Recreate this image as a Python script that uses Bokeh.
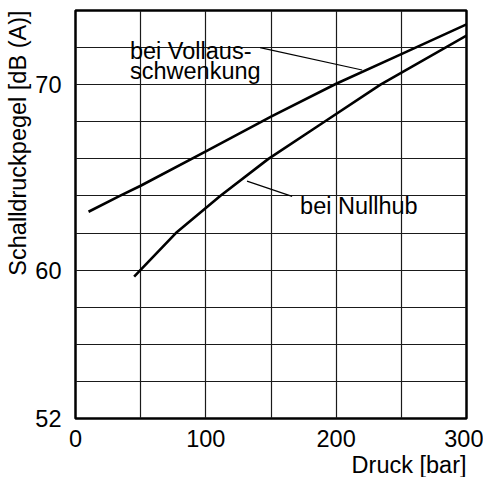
from bokeh.plotting import figure
from bokeh.models import FixedTicker, Label, Title, Range1d
from bokeh.embed import file_html
from bokeh.resources import INLINE

# ---- data ----
pressure_voll = [10, 34, 50, 100, 150, 200, 250, 300]
level_voll = [63.15, 64.0, 64.55, 66.4, 68.28, 70.05, 71.65, 73.25]

pressure_null = [45, 77, 111, 148, 191, 234, 300]
level_null = [59.65, 62.0, 64.0, 66.0, 68.0, 70.0, 72.65]

x_ticks = [0, 100, 200, 300]
y_ticks = [52, 60, 70]
x_grid = [50, 100, 150, 200, 250]
y_grid = [54, 56, 58, 60, 62, 64, 66, 68, 70, 72]

label_texts = ["bei Vollaus-", "schwenkung", "bei Nullhub"]
label_x = [41.8, 41.8, 172.3]
label_y = [71.8, 70.72, 63.45]

leader_x0 = [141.6, 131.6]
leader_y0 = [72.0, 64.8]
leader_x1 = [219.9, 166.2]
leader_y1 = [70.79, 63.98]

FONT = "Liberation Sans"
FS = "23.5px"

p = figure(width=483, height=477, output_backend="svg", toolbar_location=None,
           x_range=Range1d(0, 300), y_range=Range1d(52, 74),
           min_border_top=10, min_border_right=17, min_border_left=10, min_border_bottom=10)

p.background_fill_color = "white"
p.border_fill_color = "white"
p.outline_line_color = "black"
p.outline_line_width = 2.5

for ax in (p.xaxis, p.yaxis):
    ax.axis_line_color = None
    ax.major_tick_line_color = None
    ax.minor_tick_line_color = None
    ax.major_label_text_font = FONT
    ax.major_label_text_font_size = FS
    ax.major_label_text_color = "black"

p.xaxis.ticker = FixedTicker(ticks=x_ticks)
p.yaxis.ticker = FixedTicker(ticks=y_ticks)
p.xaxis.major_label_standoff = 5
p.yaxis.major_label_standoff = 8

p.xgrid.ticker = FixedTicker(ticks=x_grid)
p.ygrid.ticker = FixedTicker(ticks=y_grid)
p.grid.grid_line_color = "#1a1a1a"
p.grid.grid_line_width = 1.2

p.add_layout(Title(text="Druck [bar]", align="right", text_font=FONT, text_font_size=FS,
                   text_font_style="normal", text_color="black", standoff=0), "below")
p.add_layout(Title(text="Schalldruckpegel [dB (A)]", align="right", text_font=FONT, text_font_size=FS,
                   text_font_style="normal", text_color="black", standoff=4), "left")

p.line(pressure_voll, level_voll, line_color="black", line_width=2.6)
p.line(pressure_null, level_null, line_color="black", line_width=2.6)

p.segment(x0=leader_x0, y0=leader_y0, x1=leader_x1, y1=leader_y1, line_color="black", line_width=1.2)

# white boxes behind the labels first, then the texts on top
for t, x, y in zip(label_texts, label_x, label_y):
    p.add_layout(Label(x=x, y=y, text=t, text_font=FONT, text_font_size=FS, text_alpha=0,
                       text_baseline="alphabetic", background_fill_color="white", padding=4))
for t, x, y in zip(label_texts, label_x, label_y):
    p.add_layout(Label(x=x, y=y, text=t, text_font=FONT, text_font_size=FS, text_color="black",
                       text_baseline="alphabetic"))

open("out.html", "w").write(file_html(p, INLINE))
